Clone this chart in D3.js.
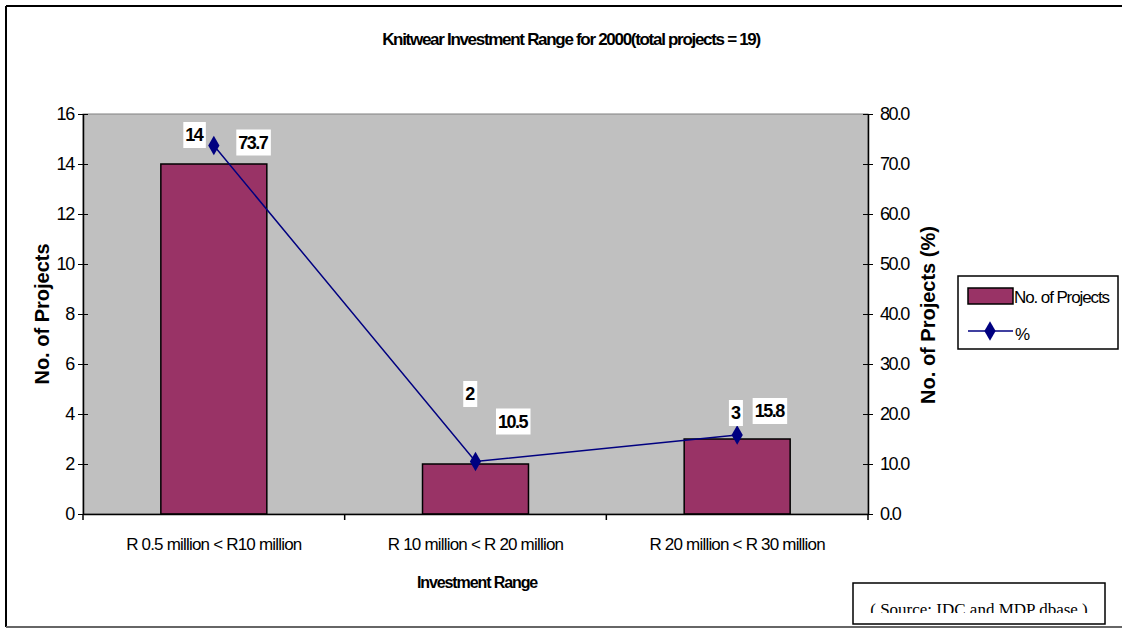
<!DOCTYPE html>
<html>
<head>
<meta charset="utf-8">
<script src="https://cdn.jsdelivr.net/npm/d3@7/dist/d3.min.js"></script>
<style>
  html, body { margin: 0; padding: 0; background: #fff; }
  svg text { font-family: "Liberation Sans", Arial, sans-serif; }
</style>
</head>
<body>
<svg id="chart" width="1122" height="628"></svg>
<script>
// Knitwear investment ranges, 2000
const categories = ["R 0.5 million < R10 million", "R 10 million < R 20 million", "R 20 million < R 30 million"];
const projects = [14, 2, 3];
const percents = [73.7, 10.5, 15.8];
const leftTicks = [0, 2, 4, 6, 8, 10, 12, 14, 16];
const rightTicks = [0, 10, 20, 30, 40, 50, 60, 70, 80];

// hand-placed label offsets (px) relative to bar top / marker
const barLabelOffset = [[-20, -29], [-6, -70], [-2, -26]];
const pctLabelOffset = [[39, -3], [37, -40], [32, -24]];

const svg = d3.select("#chart");
const plot = { left: 83, right: 868, top: 114, bottom: 514 };

// outer chart frame
svg.append("line").attr("x1", 6).attr("x2", 1122).attr("y1", 6).attr("y2", 6).attr("stroke", "#000").attr("stroke-width", 2);
svg.append("line").attr("x1", 6).attr("x2", 6).attr("y1", 6).attr("y2", 627).attr("stroke", "#000").attr("stroke-width", 2);
svg.append("line").attr("x1", 6).attr("x2", 1122).attr("y1", 627).attr("y2", 627).attr("stroke", "#666").attr("stroke-width", 2);

const x = d3.scaleBand().domain(categories).range([plot.left, plot.right]).paddingInner(0).paddingOuter(0);
const yL = d3.scaleLinear().domain([0, 16]).range([plot.bottom, plot.top]);
const yR = d3.scaleLinear().domain([0, 80]).range([plot.bottom, plot.top]);

// plot area
svg.append("rect").attr("x", plot.left).attr("y", plot.top)
  .attr("width", plot.right - plot.left).attr("height", plot.bottom - plot.top)
  .attr("fill", "#C0C0C0").attr("stroke", "#808080").attr("stroke-width", 1);

// bars
const barW = x.bandwidth() * 0.405;
svg.append("g").selectAll("rect").data(projects).join("rect")
  .attr("x", (d, i) => x(categories[i]) + x.bandwidth() / 2 - barW / 2)
  .attr("y", d => yL(d))
  .attr("width", barW)
  .attr("height", d => yL(0) - yL(d))
  .attr("fill", "#993366").attr("stroke", "#000").attr("stroke-width", 1.5);

// axes
const tickFont = (sel, size, ls) => sel.selectAll("text").attr("font-size", size).attr("letter-spacing", ls).attr("fill", "#000");
const axL = svg.append("g").attr("transform", `translate(${plot.left},0)`)
  .call(d3.axisLeft(yL).tickValues(leftTicks).tickSizeInner(5).tickSizeOuter(0).tickPadding(4));
axL.selectAll(".tick line").attr("x2", 5).attr("x1", -5);
axL.select(".domain").attr("stroke-width", 1.5);
tickFont(axL, 18, "-1.2px");
axL.selectAll(".tick text").attr("x", -9);

const axR = svg.append("g").attr("transform", `translate(${plot.right},0)`)
  .call(d3.axisRight(yR).tickValues(rightTicks).tickFormat(d3.format(".1f")).tickSizeInner(5).tickSizeOuter(0));
axR.selectAll(".tick line").attr("x1", -5).attr("x2", 5);
axR.select(".domain").attr("stroke-width", 1.5);
tickFont(axR, 18, "-1.6px");
axR.selectAll(".tick text").attr("x", 12);

const axB = svg.append("g").attr("transform", `translate(0,${plot.bottom})`)
  .call(d3.axisBottom(x).tickSizeInner(0).tickSizeOuter(0).tickPadding(24));
axB.select(".domain").attr("stroke-width", 1.5);
tickFont(axB, 17, "-0.8px");
// category separators
svg.append("g").selectAll("line").data(categories.concat(["end"])).join("line")
  .attr("x1", (d, i) => plot.left + i * x.bandwidth())
  .attr("x2", (d, i) => plot.left + i * x.bandwidth())
  .attr("y1", plot.bottom).attr("y2", plot.bottom + 6)
  .attr("stroke", "#000").attr("stroke-width", 1.5);

// percentage line
const cx = i => x(categories[i]) + x.bandwidth() / 2;
svg.append("path").datum(percents)
  .attr("d", d3.line().x((d, i) => cx(i)).y(d => yR(d)))
  .attr("fill", "none").attr("stroke", "#000080").attr("stroke-width", 1.5);
svg.append("g").selectAll("path").data(percents).join("path")
  .attr("d", d3.symbol().type(d3.symbolDiamond).size(110))
  .attr("transform", (d, i) => `translate(${cx(i)},${yR(d)})`)
  .attr("fill", "#000080");

// data labels with white backing
function boxedLabel(text, px, py) {
  const g = svg.append("g");
  const t = g.append("text").attr("x", px).attr("y", py).attr("text-anchor", "middle")
    .attr("dominant-baseline", "central").attr("font-size", 18).attr("font-weight", "bold")
    .attr("letter-spacing", "-1.5px").text(text);
  const b = t.node().getBBox();
  g.insert("rect", "text").attr("x", b.x - 2).attr("y", b.y - 3).attr("width", b.width + 4).attr("height", b.height + 6).attr("fill", "#fff");
}
projects.forEach((d, i) => boxedLabel(d, cx(i) + barLabelOffset[i][0], yL(d) + barLabelOffset[i][1]));
percents.forEach((d, i) => boxedLabel(d3.format(".1f")(d), cx(i) + pctLabelOffset[i][0], yR(d) + pctLabelOffset[i][1]));

// titles
svg.append("text").attr("x", 571).attr("y", 45).attr("text-anchor", "middle")
  .attr("font-size", 17).attr("font-weight", "bold").attr("letter-spacing", "-1.3px")
  .text("Knitwear Investment Range for 2000(total projects = 19)");
svg.append("text").attr("transform", "translate(49,314) rotate(-90)").attr("text-anchor", "middle")
  .attr("font-size", 20).attr("font-weight", "bold").text("No. of Projects");
svg.append("text").attr("transform", "translate(935,315) rotate(-90)").attr("text-anchor", "middle")
  .attr("font-size", 20).attr("font-weight", "bold").text("No. of Projects (%)");
svg.append("text").attr("x", 477).attr("y", 588).attr("text-anchor", "middle")
  .attr("font-size", 16).attr("font-weight", "bold").attr("letter-spacing", "-1.1px").text("Investment Range");

// legend
const lg = svg.append("g");
lg.append("rect").attr("x", 958).attr("y", 276).attr("width", 160).attr("height", 73)
  .attr("fill", "#fff").attr("stroke", "#000").attr("stroke-width", 1.5);
lg.append("rect").attr("x", 968).attr("y", 288).attr("width", 45).attr("height", 16)
  .attr("fill", "#993366").attr("stroke", "#000").attr("stroke-width", 1.5);
lg.append("text").attr("x", 1014).attr("y", 303).attr("font-size", 17).attr("letter-spacing", "-1.1px").text("No. of Projects");
lg.append("line").attr("x1", 968).attr("x2", 1013).attr("y1", 331).attr("y2", 331).attr("stroke", "#000080").attr("stroke-width", 1.5);
lg.append("path").attr("d", d3.symbol().type(d3.symbolDiamond).size(110)).attr("transform", "translate(990,331)").attr("fill", "#000080");
lg.append("text").attr("x", 1015).attr("y", 340).attr("font-size", 17).text("%");

// source note, partly cut off by the chart edge
const sg = svg.append("g");
sg.append("defs").append("clipPath").attr("id", "srcClip").append("rect").attr("x", 850).attr("y", 580).attr("width", 260).attr("height", 33);
sg.append("rect").attr("x", 853).attr("y", 583).attr("width", 252).attr("height", 41)
  .attr("fill", "#fff").attr("stroke", "#000").attr("stroke-width", 1.5);
sg.append("text").attr("clip-path", "url(#srcClip)").attr("x", 979).attr("y", 615).attr("text-anchor", "middle")
  .style("font-family", "'Liberation Serif', 'Times New Roman', serif")
  .attr("font-size", 17).text("( Source: IDC and MDP dbase )");
</script>
</body>
</html>
